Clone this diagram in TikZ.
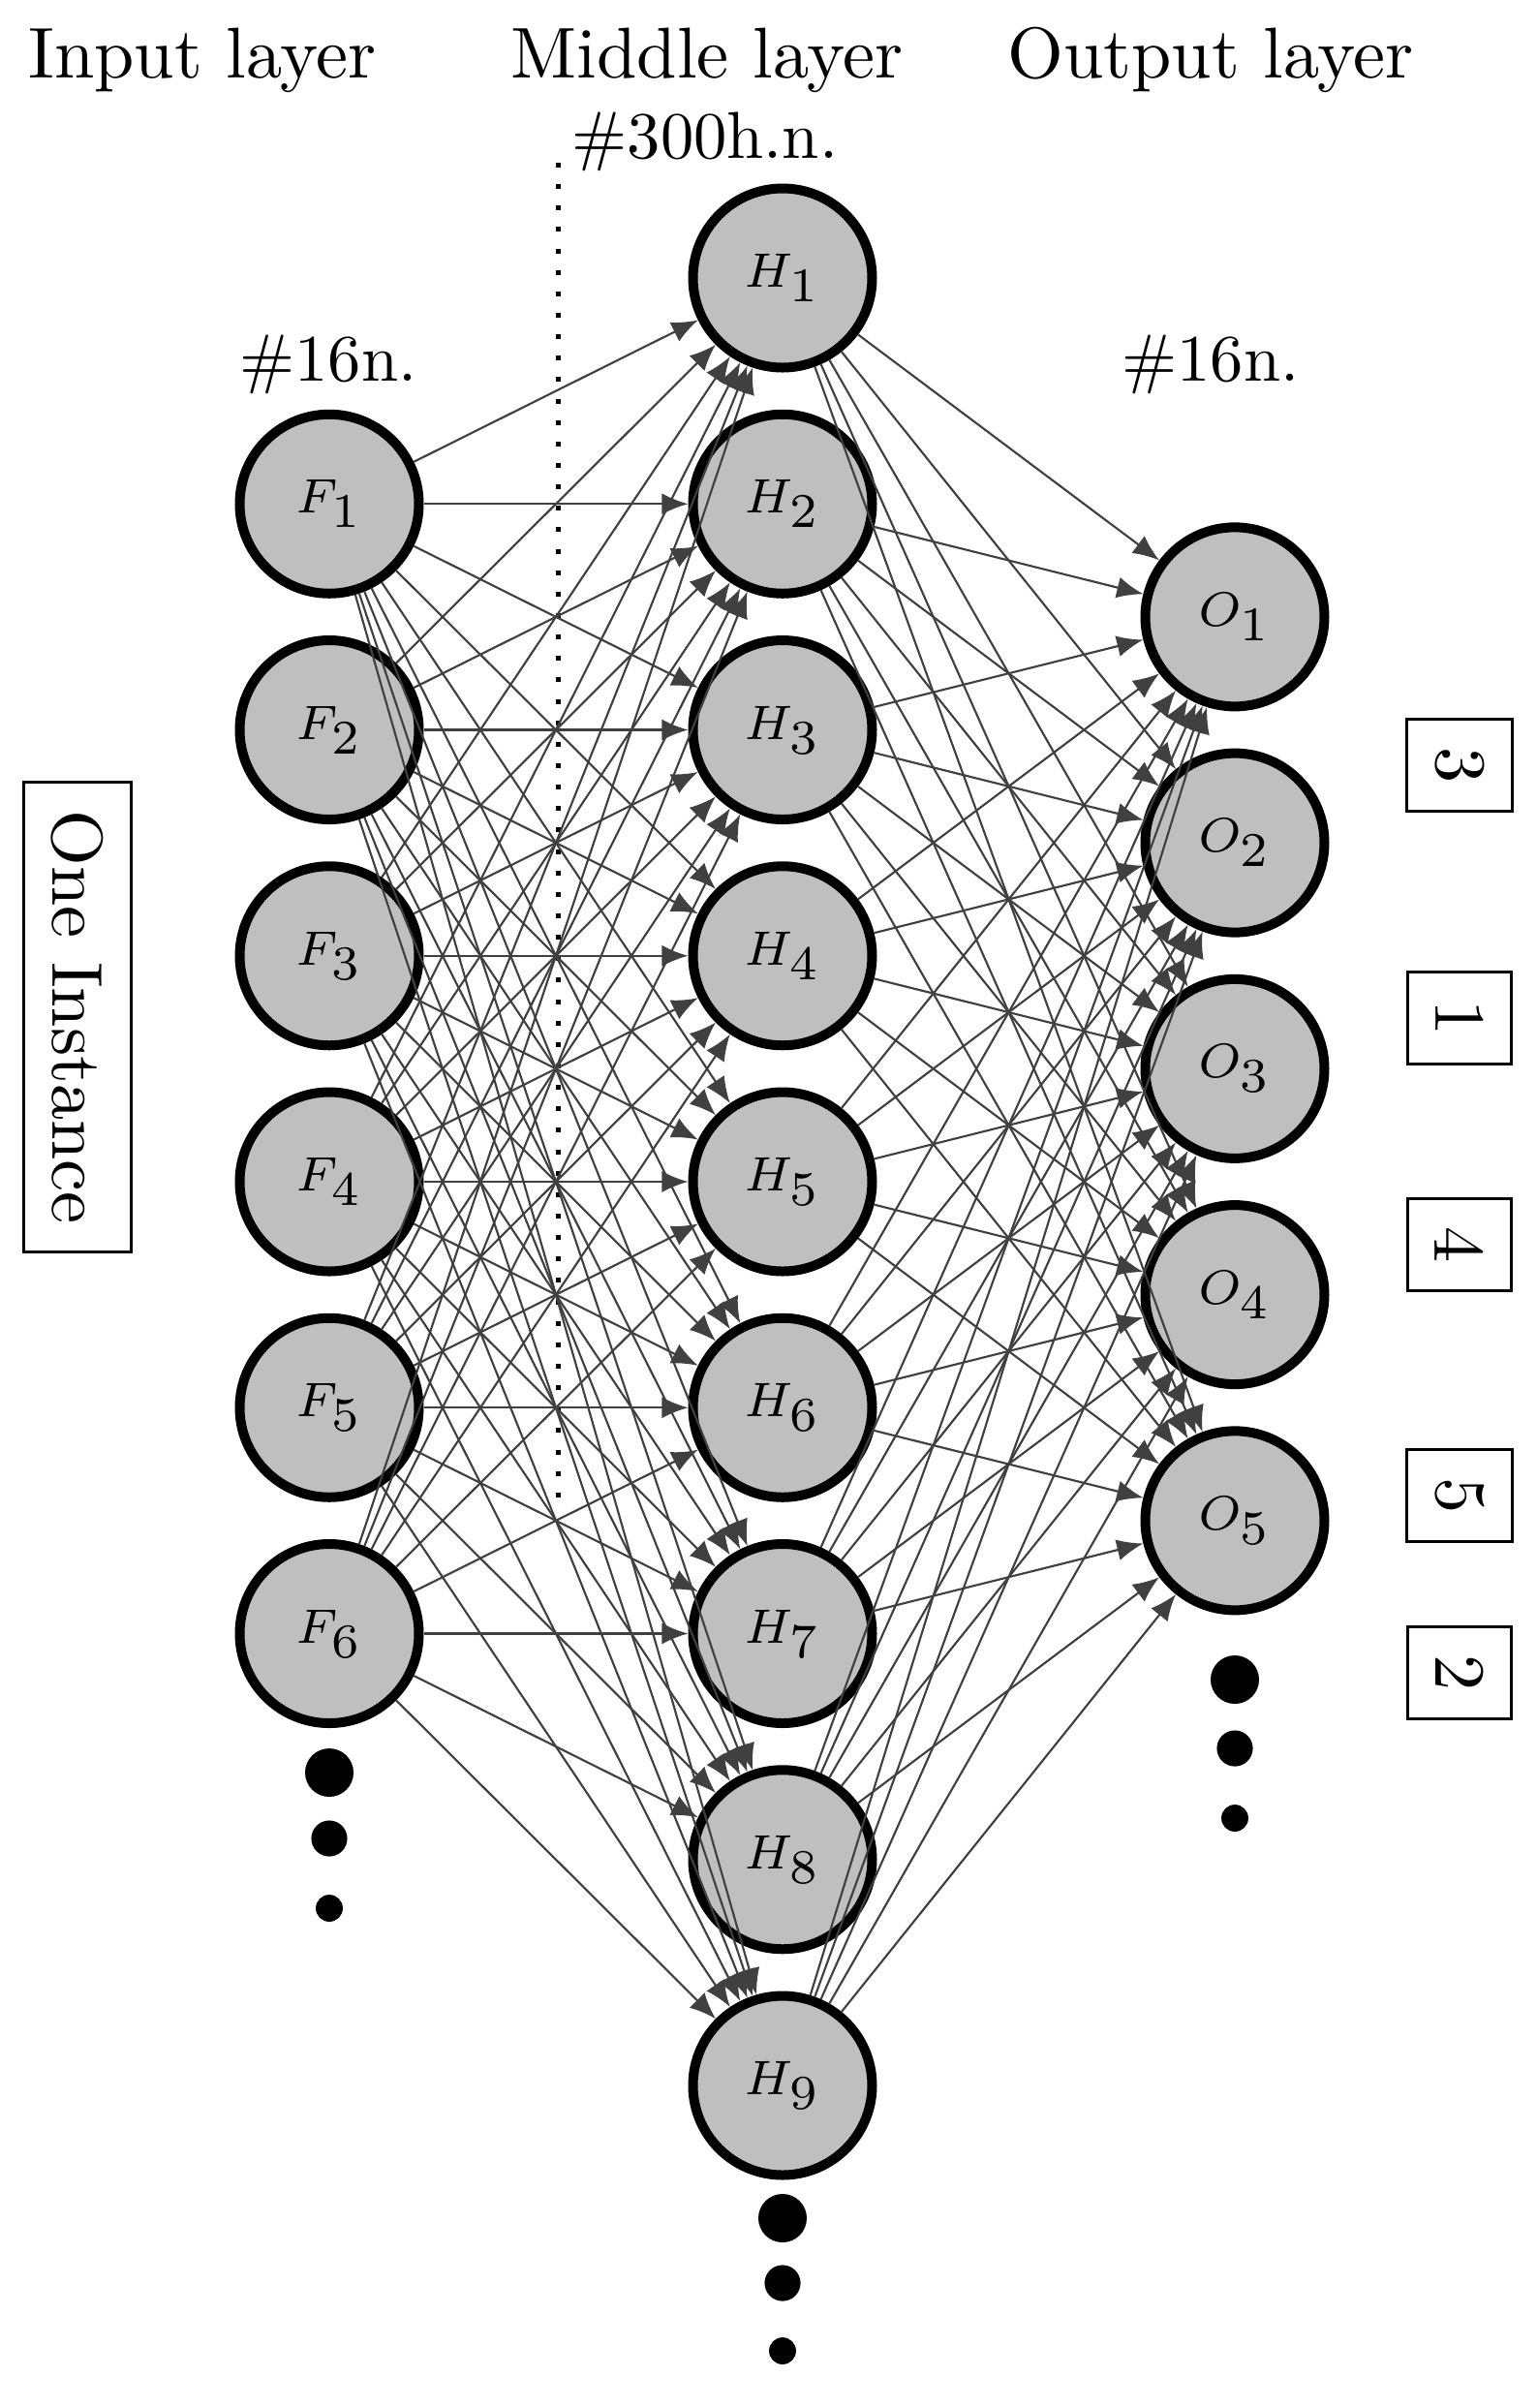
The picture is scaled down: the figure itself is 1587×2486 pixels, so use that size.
\documentclass[tikz,border=0pt]{standalone}
\usetikzlibrary{arrows.meta}
\definecolor{nodefill}{HTML}{BFBFBF}
\definecolor{edgecol}{HTML}{404040}
\begin{document}
\begin{tikzpicture}[x=0.14pt,y=-0.14pt,
  neuron/.style={circle,draw=black,line width=1.4pt,fill=nodefill,minimum size=25.9pt,inner sep=0pt,outer sep=0.7pt,font=\fontsize{7}{8}\selectfont},
  edge/.style={draw=edgecol,line width=0.3pt,-{Latex[length=3.8pt,width=3.1pt]}},
  lbl/.style={anchor=base,font=\fontsize{10.4}{12}\selectfont,inner sep=0pt},
  cntlbl/.style={anchor=base,font=\fontsize{9.6}{11}\selectfont,inner sep=0pt},
  boxlbl/.style={draw,line width=0.45pt,inner sep=4pt,rotate=-90,font=\fontsize{10.4}{12}\selectfont},
  bigdot/.style={circle,fill=black,inner sep=0pt}]
\useasboundingbox (0,0) rectangle (1587,2486);

% headings
\node[lbl] (tin) at (209,80) {Input layer};
\node[lbl] (tmid) at (730,80) {Middle layer};
\node[lbl] (tout) at (1250,80) {Output layer};
\node[cntlbl] (thid) at (728,163) {\#300h.n.};
\node[cntlbl] (tnin) at (339,393) {\#16n.};
\node[cntlbl] (tnout) at (1250,393) {\#16n.};

% dotted separator
\coordinate (dtop) at (576,168);
\coordinate (dbot) at (576,1562);
\draw[line width=0.7pt,dash pattern=on 0.7pt off 2.4pt] (dtop) -- (dbot);

% hidden layer
\foreach \j in {1,...,9}{
  \node[neuron] (H\j) at (808,{287+233.25*(\j-1)}) {$H_{\textstyle \j}$};
}
% input layer
\foreach \i in {1,...,6}{
  \node[neuron] (F\i) at (340,{287+233.25*\i}) {$F_{\textstyle \i}$};
}
% output layer
\foreach \k in {1,...,5}{
  \node[neuron] (O\k) at (1275,{287+233.25*\k+116.6}) {$O_{\textstyle \k}$};
}

% connections
\foreach \i in {1,...,6}{
  \foreach \j in {1,...,9}{
    \draw[edge] (F\i) -- (H\j);
  }
}
\foreach \j in {1,...,9}{
  \foreach \k in {1,...,5}{
    \draw[edge] (H\j) -- (O\k);
  }
}

% continuation dots
\node[bigdot,minimum size=7pt] (fd1) at (340,1830) {};
\node[bigdot,minimum size=5.2pt] (fd2) at (340,1898) {};
\node[bigdot,minimum size=3.9pt] (fd3) at (340,1970) {};
\node[bigdot,minimum size=7pt] (hd1) at (808,2290) {};
\node[bigdot,minimum size=5.2pt] (hd2) at (808,2357) {};
\node[bigdot,minimum size=3.9pt] (hd3) at (808,2427) {};
\node[bigdot,minimum size=7pt] (od1) at (1275,1734) {};
\node[bigdot,minimum size=5.2pt] (od2) at (1275,1805) {};
\node[bigdot,minimum size=3.9pt] (od3) at (1275,1877) {};

% instance box and class boxes
\node[boxlbl] (inst) at (80,1050) {One Instance};
\node[boxlbl] (c3) at (1507,790) {3};
\node[boxlbl] (c1) at (1507,1051) {1};
\node[boxlbl] (c4) at (1507,1285) {4};
\node[boxlbl] (c5) at (1507,1544) {5};
\node[boxlbl] (c2) at (1507,1727) {2};
\end{tikzpicture}
\end{document}
